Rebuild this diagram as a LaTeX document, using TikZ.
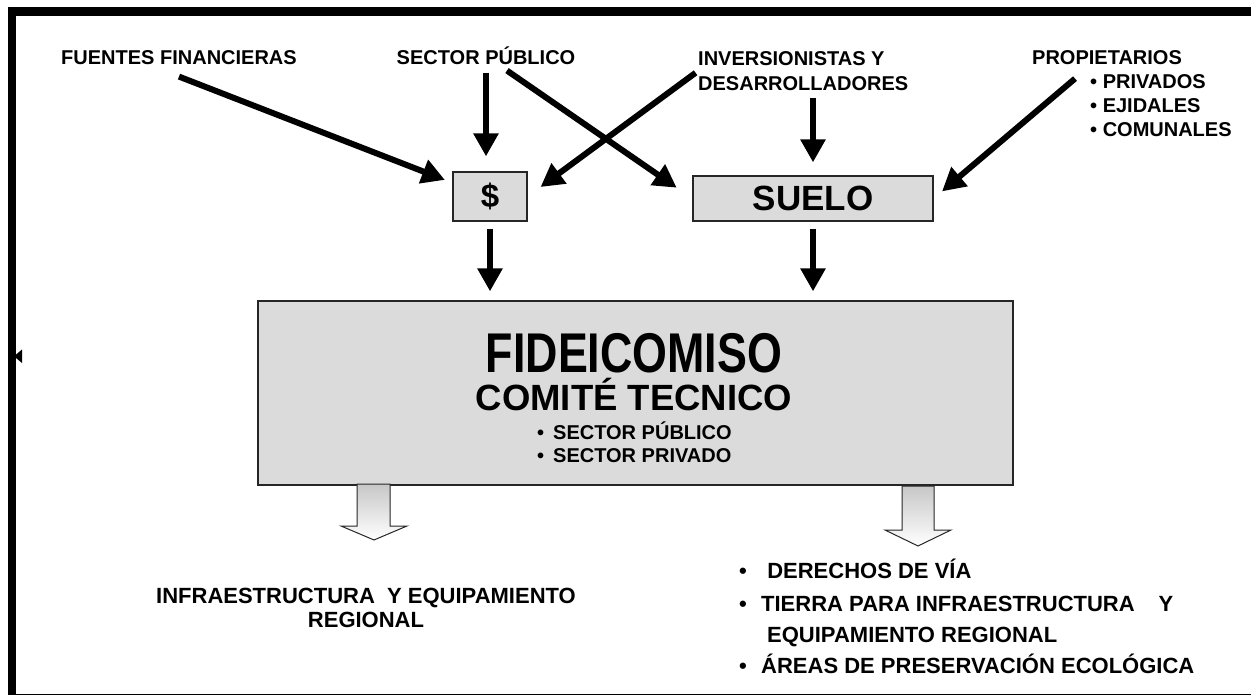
\documentclass[tikz,border=0pt]{standalone}
\usepackage{fontspec}
\setmainfont{Liberation Sans}
\usepackage{graphicx}
\usetikzlibrary{arrows.meta}

\newcommand\bulitem{\makebox[22pt][l]{•}}

\tikzset{
	lbl/.style={font=\bfseries\fontsize{20}{24}\selectfont, inner sep=0pt},
	lowlbl/.style={font=\bfseries\fontsize{22}{31}\selectfont, inner sep=0pt},
	graybox/.style={draw=black!85, line width=1.3pt, fill=black!14, rectangle, inner sep=0pt},
	thickarr/.style={line width=6pt, -{Triangle[length=23pt,width=24pt]}},
	hollowarr/.style={draw=black!85, line width=1pt, top color=black!22, bottom color=white},
}

\begin{document}
\begin{tikzpicture}[x=1pt,y=-1pt]
		\useasboundingbox (0,0) rectangle (1251,698);
		% frame
		\draw[line width=9pt] (8,11.5) -- (1251,11.5);
		\draw[line width=8pt] (12,7) -- (12,695);
		\draw[line width=1.5pt] (12,694.5) -- (1251,694.5);
		\fill (22,349.5) -- (22,363) -- (14,356.3) -- cycle;

		\node (fuentes) [lbl, anchor=base] at (179,64.2) {FUENTES FINANCIERAS};
		\node (secpub) [lbl, anchor=base] at (486,64.2) {SECTOR PÚBLICO};
		\node (inver) [lbl, anchor=west, align=left, font=\bfseries\fontsize{20}{25}\selectfont] at (698,71) {INVERSIONISTAS Y\\DESARROLLADORES};
		\node (prop) [lbl, anchor=base west] at (1032,64.2) {PROPIETARIOS};
		\node (proplist) [lbl, anchor=west, align=left] at (1090,106) {• PRIVADOS\\• EJIDALES\\• COMUNALES};

		\node (dollar) [graybox, minimum width=74pt, minimum height=49pt, font=\bfseries\fontsize{33}{35}\selectfont] at (490,196.5) {\$};
		\node (suelo) [graybox, minimum width=240pt, minimum height=45pt, font=\bfseries\fontsize{35}{37}\selectfont] at (813,198.5) {SUELO};

		\node (fidei) [graybox, minimum width=755pt, minimum height=184pt] at (635.5,393) {};
		\node (fidtitle) [anchor=base, inner sep=0pt, font=\bfseries\fontsize{56}{60}\selectfont] at (634,372) {\scalebox{0.8}[1]{FIDEICOMISO}};
		\node (comite) [anchor=base, inner sep=0pt, font=\bfseries\fontsize{36.5}{40}\selectfont] at (634,410) {COMITÉ TECNICO};
		\node (fidpub) [lbl, anchor=base west] at (537,439) {•\hspace{9pt}SECTOR PÚBLICO};
		\node (fidpriv) [lbl, anchor=base west] at (537,462) {•\hspace{9pt}SECTOR PRIVADO};

		\node (infra) [lowlbl, align=center, font=\bfseries\fontsize{22}{24}\selectfont] at (366,608) {INFRAESTRUCTURA\ \ Y EQUIPAMIENTO\\REGIONAL};
		\node (derechos) [lowlbl, anchor=base west] at (739,578) {\bulitem\ DERECHOS DE VÍA};
		\node (tierra) [lowlbl, anchor=base west] at (739,611) {\bulitem TIERRA PARA INFRAESTRUCTURA\hspace{24pt}Y};
		\node (equipa) [lowlbl, anchor=base west] at (767,642) {EQUIPAMIENTO REGIONAL};
		\node (areas) [lowlbl, anchor=base west] at (739,673) {\bulitem ÁREAS DE PRESERVACIÓN ECOLÓGICA};

		% Arrows
		\draw[thickarr, shorten >=8pt] ([yshift=-12pt]fuentes.south) -- (dollar.160);
		\draw[thickarr, shorten >=15pt] ([yshift=-8pt]secpub.south) -- (secpub.south |- dollar.north);
		\draw[thickarr, shorten >=19pt] ([xshift=21pt,yshift=-6pt]secpub.south) -- (suelo.west);
		\draw[thickarr, shorten <=3pt, shorten >=16pt] (inver.west) -- (dollar.east);
		\draw[thickarr, shorten <=7pt, shorten >=13pt] (inver.south -| suelo.north) -- (suelo.north);
		\draw[thickarr, shorten >=11pt] ([xshift=-32pt,yshift=-14pt]prop.south) -- (suelo.east);
		\draw[thickarr, shorten <=7pt, shorten >=9pt] (dollar.south) -- (dollar.south |- fidei.north);
		\draw[thickarr, shorten <=7pt, shorten >=9pt] (suelo.south) -- (suelo.south |- fidei.north);

		% hollow arrows
		\draw[hollowarr] (357,484) -- (357,526) -- (341,526) -- (374,540) -- (407,526) -- (390,526) -- (390,484) -- cycle;
		\draw[hollowarr] (902,486) -- (902,530) -- (885,530) -- (918,546) -- (951,530) -- (934,530) -- (934,486) -- cycle;
\end{tikzpicture}
\end{document}
